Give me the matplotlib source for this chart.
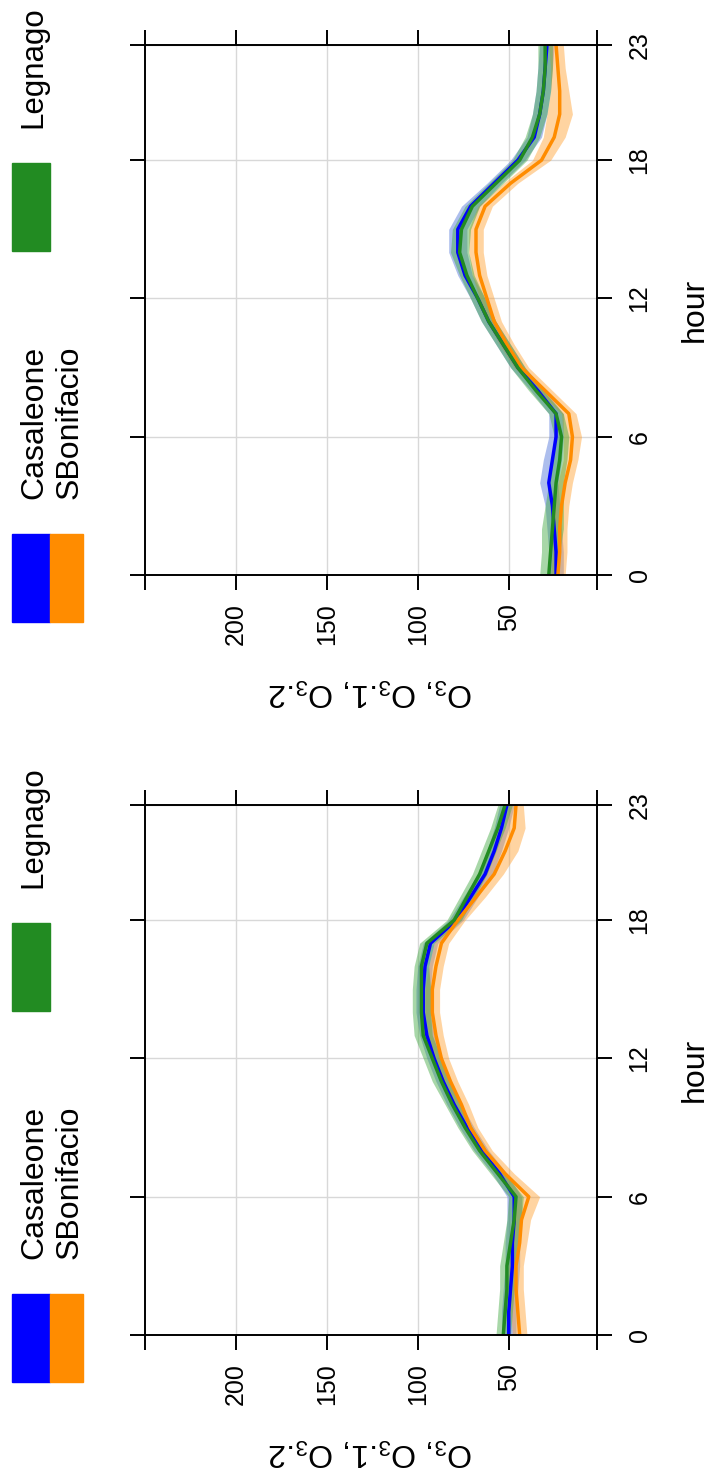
import matplotlib
matplotlib.use("Agg")
import matplotlib.pyplot as plt
from matplotlib import font_manager
from matplotlib.patches import Rectangle

plt.rcParams['font.family'] = ['Liberation Sans', 'DejaVu Sans']
plt.rcParams['mathtext.fontset'] = 'custom'
plt.rcParams['mathtext.rm'] = 'Liberation Sans'
plt.rcParams['mathtext.it'] = 'Liberation Sans:italic'

# narrow face for the tick numbers if present
names = {f.name for f in font_manager.fontManager.ttflist}
tick_family = 'Liberation Sans Narrow' if 'Liberation Sans Narrow' in names else 'Liberation Sans'
tick_size = 19 if tick_family == 'Liberation Sans Narrow' else 18

# data (hourly O3)
hours = list(range(24))
stations = ['Casaleone', 'SBonifacio', 'Legnago']
line_colors = ['#0000ff', '#ff8c00', '#228b22']
band_colors = ['#4a6fd8', '#ffa030', '#3fa83f']

# upper panel
top_casaleone = [24, 24, 25, 26, 28, 26, 24, 24, 34, 45, 53, 61, 67, 74, 78, 78, 71, 58, 45, 36, 33, 31, 30, 29]
top_sbonifacio = [23, 22, 22, 21, 19, 16, 15, 17, 30, 43, 51, 58, 62, 66, 68, 68, 63, 49, 32, 25, 22, 22, 23, 24]
top_legnago = [28, 27, 26, 25, 24, 22, 21, 24, 35, 45, 53, 61, 67, 73, 77, 76, 70, 57, 44, 37, 33, 31, 30, 30]
top_hw_casaleone = [4, 4, 4, 4, 5, 5, 4, 4, 4, 4, 4, 4, 4, 4, 5, 5, 5, 4, 4, 4, 4, 4, 4, 4]
top_hw_sbonifacio = [4, 4, 4, 4, 4, 4, 5, 4, 4, 4, 4, 4, 4, 4, 4, 4, 4, 4, 5, 6, 7, 5, 4, 4]
top_hw_legnago = [5, 5, 6, 5, 4, 4, 4, 4, 4, 4, 4, 4, 4, 4, 5, 5, 4, 4, 4, 4, 4, 4, 4, 4]

# lower panel
bot_casaleone = [50, 50, 49, 48, 48, 47, 47, 55, 65, 73, 80, 86, 91, 95, 97, 97, 96, 93, 79, 71, 63, 58, 54, 51]
bot_sbonifacio = [44, 45, 46, 46, 44, 43, 39, 52, 63, 71, 76, 82, 87, 90, 92, 92, 90, 87, 78, 68, 58, 52, 47, 46]
bot_legnago = [53, 52, 51, 51, 49, 47, 46, 56, 66, 74, 81, 87, 92, 97, 98, 98, 98, 95, 80, 73, 66, 61, 56, 52]
bot_hw_casaleone = [4, 4, 4, 4, 4, 4, 4, 4, 4, 4, 4, 4, 4, 4, 4, 4, 4, 4, 4, 4, 4, 4, 4, 4]
bot_hw_sbonifacio = [4, 4, 4, 4, 4, 5, 6, 5, 4, 4, 4, 4, 4, 4, 4, 4, 4, 4, 4, 5, 5, 7, 6, 4]
bot_hw_legnago = [4, 4, 4, 4, 4, 4, 4, 4, 4, 4, 4, 5, 5, 5, 5, 5, 4, 4, 4, 4, 4, 4, 4, 4]

value_ticks = [50, 100, 150, 200]
hour_ticks = [0, 6, 12, 18, 23]

W, H = 712, 1481
fig = plt.figure(figsize=(W / 100, H / 100), dpi=100)


def draw_panel(top_px, series, widths):
    # chart is drawn turned on its side: hours run upwards, values run leftwards
    ax = fig.add_axes([145 / W, 1 - (top_px + 530) / H, 452 / W, 530 / H])
    for vals, hw, bc in zip(series, widths, band_colors):
        lo = [v - w for v, w in zip(vals, hw)]
        hi = [v + w for v, w in zip(vals, hw)]
        ax.fill_betweenx(hours, lo, hi, color=bc, alpha=0.45, lw=0)
    for vals, lc in zip(series, line_colors):
        ax.plot(vals, hours, color=lc, lw=2.5)
    ax.set_xlim(249.9, 1.5)
    ax.set_ylim(0, 23)
    ax.set_xticks(value_ticks)
    ax.set_xticks([1.5, 249.9], minor=True)
    ax.set_yticks(hour_ticks)
    ax.grid(True, color='#d8d8d8', lw=1)
    ax.set_axisbelow(True)
    for s in ax.spines.values():
        s.set_linewidth(1.4)
    ax.tick_params(which='both', direction='out', length=11, width=1.4,
                   top=True, bottom=True, left=True, right=True,
                   labelleft=False, labelright=True, labelsize=tick_size)
    ax.tick_params(axis='x', pad=9)
    ax.tick_params(axis='y', pad=11)
    for lab in ax.get_xticklabels():
        lab.set_rotation(90)
        lab.set_family(tick_family)
    for lab in ax.get_yticklabels():
        lab.set_rotation(90)
        lab.set_va('center')
        lab.set_ha('left')
        lab.set_family(tick_family)

    # axis titles
    fig.text(695 / W, 1 - (top_px + 265) / H, 'hour', rotation=90,
             ha='center', va='center', fontsize=23)
    fig.text(371 / W, 1 - (top_px + 647) / H, r'O$_3$, O$_3$.1, O$_3$.2',
             rotation=180, ha='center', va='center', fontsize=23)

    # key
    off = top_px - 45
    fig.add_artist(Rectangle((12 / W, 1 - (off + 622) / H), 38 / W, 88 / H,
                             color=line_colors[0], transform=fig.transFigure))
    fig.add_artist(Rectangle((50 / W, 1 - (off + 622) / H), 33 / W, 88 / H,
                             color=line_colors[1], transform=fig.transFigure))
    fig.add_artist(Rectangle((12 / W, 1 - (off + 251) / H), 38 / W, 88 / H,
                             color=line_colors[2], transform=fig.transFigure))
    fig.text(34 / W, 1 - (off + 499) / H, stations[0], rotation=90,
             ha='center', va='bottom', fontsize=23)
    fig.text(70 / W, 1 - (off + 499) / H, stations[1], rotation=90,
             ha='center', va='bottom', fontsize=23)
    fig.text(33 / W, 1 - (off + 128) / H, stations[2], rotation=90,
             ha='center', va='bottom', fontsize=22.5)
    return ax


draw_panel(45, [top_casaleone, top_sbonifacio, top_legnago],
           [top_hw_casaleone, top_hw_sbonifacio, top_hw_legnago])
draw_panel(805, [bot_casaleone, bot_sbonifacio, bot_legnago],
           [bot_hw_casaleone, bot_hw_sbonifacio, bot_hw_legnago])

fig.savefig('out.png', dpi=100)
